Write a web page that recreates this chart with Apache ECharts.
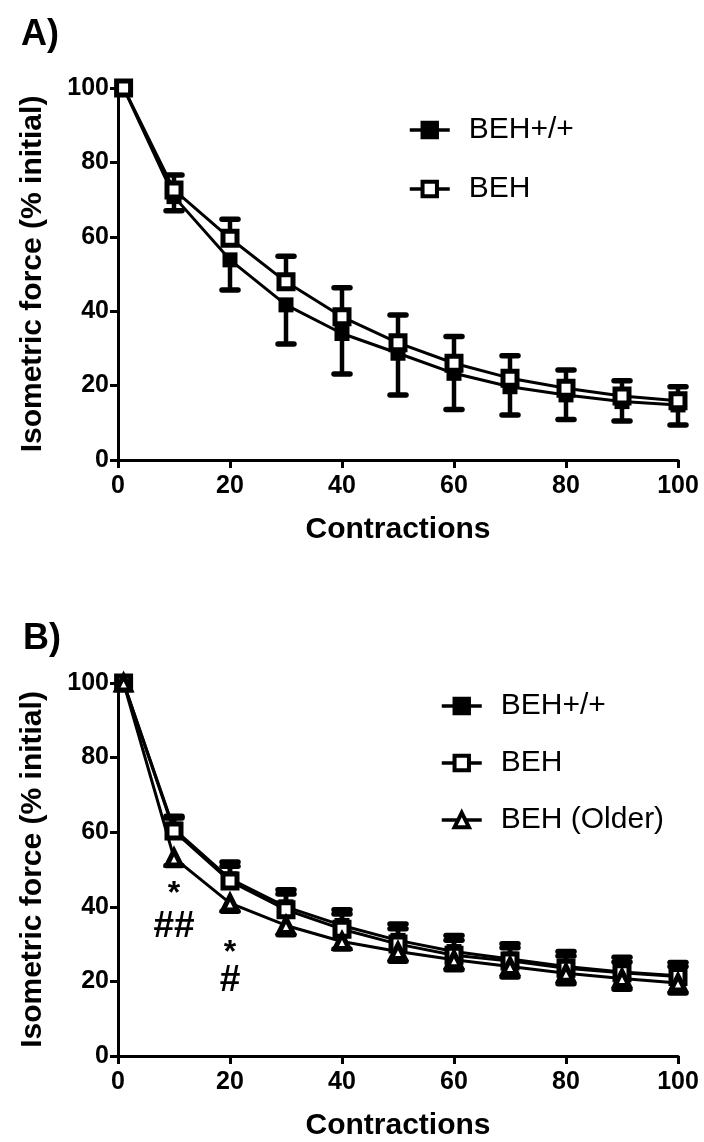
<!DOCTYPE html>
<html>
<head>
<meta charset="utf-8">
<script src="https://cdn.jsdelivr.net/npm/echarts@6/dist/echarts.min.js"></script>
<style>
html,body{margin:0;padding:0;background:#fff;}
#chart{width:704px;height:1142px;}
</style>
</head>
<body>
<div id="chart"></div>
<script>
// ---- data ----
const contractions = [1, 10, 20, 30, 40, 50, 60, 70, 80, 90, 100];
const xTicks = [0, 20, 40, 60, 80, 100];
const yTicks = [0, 20, 40, 60, 80, 100];

// Panel A
const aWT    = [100, 70.8, 53.8, 41.7, 34.0, 28.7, 23.3, 19.7, 17.5, 15.7, 14.8];
const aWTsd  = [0, 3.8, 8.1, 10.5, 10.9, 11.2, 9.7, 7.6, 6.6, 5.2, 5.4];
const aBEH   = [100, 72.6, 59.6, 47.9, 38.5, 31.5, 26.0, 22.0, 19.3, 17.2, 15.9];
const aBEHsd = [0, 4.0, 5.1, 6.9, 7.8, 7.5, 7.2, 6.0, 4.9, 4.1, 3.8];

// Panel B
const bWT    = [100, 60.8, 47.5, 40.0, 35.0, 31.0, 28.0, 26.0, 24.0, 22.5, 21.5];
const bWTsd  = [0, 3.0, 3.4, 3.4, 3.1, 3.1, 3.0, 3.0, 2.8, 2.7, 2.5];
const bBEH   = [100, 60.3, 46.9, 39.2, 34.0, 30.0, 27.0, 25.5, 23.5, 22.3, 21.3];
const bBEHsd = [0, 4.0, 5.1, 5.4, 5.2, 5.4, 5.3, 4.6, 4.5, 4.2, 3.8];
const bOld   = [100, 53.1, 41.0, 35.0, 30.7, 28.0, 25.8, 24.0, 22.2, 20.8, 19.6];
const bOldsd = [0, 2.0, 2.2, 2.5, 2.0, 2.6, 2.7, 2.8, 2.8, 2.9, 2.7];

// significance annotations (panel B)
const annotText = ['*', '##', '*', '#'];
const annotX = [10, 10, 20, 20];
const annotY = [43.3, 34.7, 27.6, 20.2];

const names = ['BEH+/+', 'BEH', 'BEH (Older)'];
const yTitle = 'Isometric force (% initial)';
const xTitle = 'Contractions';

// ---- styling ----
const FONT = '"Liberation Sans", Arial, sans-serif';
const BLACK = '#000';

function pairs(ys) { return contractions.map((x, i) => [x, ys[i]]); }
function errData(ys, sds, dir) { return contractions.map((x, i) => [x, ys[i], sds[i], dir]); }

function errSeries(ys, sds, dir, gi) {
  return {
    type: 'custom',
    xAxisIndex: gi, yAxisIndex: gi,
    z: 1,
    silent: true,
    data: errData(ys, sds, dir),
    renderItem: function (params, api) {
      const x = api.value(0), y = api.value(1), sd = api.value(2), d = api.value(3);
      if (!sd) return null;
      const p0 = api.coord([x, y]);
      const p1 = api.coord([x, y + d * sd]);
      const hw = 8;
      return {
        type: 'group',
        children: [
          { type: 'line', shape: { x1: p0[0], y1: p0[1], x2: p1[0], y2: p1[1] }, style: { stroke: BLACK, lineWidth: 4.5 } },
          { type: 'line', shape: { x1: p1[0] - hw, y1: p1[1], x2: p1[0] + hw, y2: p1[1] }, style: { stroke: BLACK, lineWidth: 5.5, lineCap: 'round' } }
        ]
      };
    }
  };
}

function lineSeries(name, ys, gi, kind, z) {
  const s = {
    name: name,
    type: 'line',
    xAxisIndex: gi, yAxisIndex: gi,
    data: pairs(ys),
    z: z,
    lineStyle: { color: BLACK, width: 3 },
    symbolKeepAspect: true,
    animation: false
  };
  if (kind === 'filled') {
    s.symbol = 'rect'; s.symbolSize = 15;
    s.itemStyle = { color: BLACK, borderColor: BLACK, borderWidth: 0 };
  } else if (kind === 'open') {
    s.symbol = 'rect'; s.symbolSize = 14;
    s.itemStyle = { color: '#fff', borderColor: BLACK, borderWidth: 5 };
  } else {
    s.symbol = 'triangle'; s.symbolSize = 14;
    s.itemStyle = { color: '#fff', borderColor: BLACK, borderWidth: 5 };
  }
  return s;
}

function xAxis(gi) {
  return {
    gridIndex: gi, type: 'value', min: 0, max: 100, interval: 20,
    name: xTitle, nameLocation: 'middle', nameGap: 55,
    nameTextStyle: { fontFamily: FONT, fontWeight: 'bold', fontSize: 30, color: BLACK },
    axisLine: { lineStyle: { color: BLACK, width: 3 } },
    axisTick: { length: 8, lineStyle: { color: BLACK, width: 3 } },
    axisLabel: { fontFamily: FONT, fontWeight: 'bold', fontSize: 25, color: BLACK, margin: 14 },
    splitLine: { show: false }
  };
}
function yAxis(gi) {
  return {
    gridIndex: gi, type: 'value', min: 0, max: 100, interval: 20,
    name: yTitle, nameLocation: 'middle', nameGap: 70, nameRotate: 90,
    nameTextStyle: { fontFamily: FONT, fontWeight: 'bold', fontSize: 30, color: BLACK },
    axisLine: { show: true, lineStyle: { color: BLACK, width: 3 } },
    axisTick: { show: true, length: 8, lineStyle: { color: BLACK, width: 3 } },
    axisLabel: { fontFamily: FONT, fontWeight: 'bold', fontSize: 25, color: BLACK, margin: 9 },
    splitLine: { show: false }
  };
}

const legendText = { fontFamily: FONT, fontSize: 30, color: BLACK, padding: [0, 0, 0, 14], lineHeight: 30 };
const legendLine = { color: BLACK, width: 3.5 };
const legendItem = { borderColor: BLACK, borderWidth: 4 };

const option = {
  backgroundColor: '#fff',
  animation: false,
  title: [
    { text: 'A)', left: 16, top: 12, textStyle: { fontFamily: FONT, fontWeight: 'bold', fontSize: 36, color: BLACK } },
    { text: 'B)', left: 18, top: 616, textStyle: { fontFamily: FONT, fontWeight: 'bold', fontSize: 36, color: BLACK } }
  ],
  legend: [
    { data: [names[0], names[1]], orient: 'vertical', left: 403, top: 110, itemWidth: 40, itemHeight: 18,
      itemGap: 29, textStyle: legendText, lineStyle: legendLine, itemStyle: legendItem, selectedMode: false },
    { data: [names[0], names[1], names[2]], orient: 'vertical', left: 435, top: 686, itemWidth: 40, itemHeight: 18,
      itemGap: 27, textStyle: legendText, lineStyle: legendLine, itemStyle: legendItem, selectedMode: false }
  ],
  grid: [
    { left: 118, width: 560, top: 88, height: 372 },
    { left: 118, width: 560, top: 683, height: 373 }
  ],
  xAxis: [xAxis(0), xAxis(1)],
  yAxis: [yAxis(0), yAxis(1)],
  series: [
    errSeries(aWT, aWTsd, -1, 0),
    errSeries(aBEH, aBEHsd, 1, 0),
    lineSeries(names[0], aWT, 0, 'filled', 2),
    lineSeries(names[1], aBEH, 0, 'open', 3),

    errSeries(bWT, bWTsd, 1, 1),
    errSeries(bBEH, bBEHsd, 1, 1),
    errSeries(bOld, bOldsd, -1, 1),
    lineSeries(names[0], bWT, 1, 'filled', 2),
    lineSeries(names[1], bBEH, 1, 'open', 3),
    lineSeries(names[2], bOld, 1, 'triangle', 4),
    {
      type: 'scatter', xAxisIndex: 1, yAxisIndex: 1, symbolSize: 1, silent: true, z: 5,
      itemStyle: { opacity: 0 },
      data: annotText.map((t, i) => ({
        value: [annotX[i], annotY[i]], name: t,
        label: { fontSize: t === '*' ? 32 : 37 }
      })),
      label: {
        show: true, position: 'inside', formatter: p => p.name,
        fontFamily: FONT, fontWeight: 'bold', color: BLACK, opacity: 1
      }
    }
  ]
};

const chart = echarts.init(document.getElementById('chart'), null, { renderer: 'canvas' });
chart.setOption(option);
</script>
</body>
</html>
